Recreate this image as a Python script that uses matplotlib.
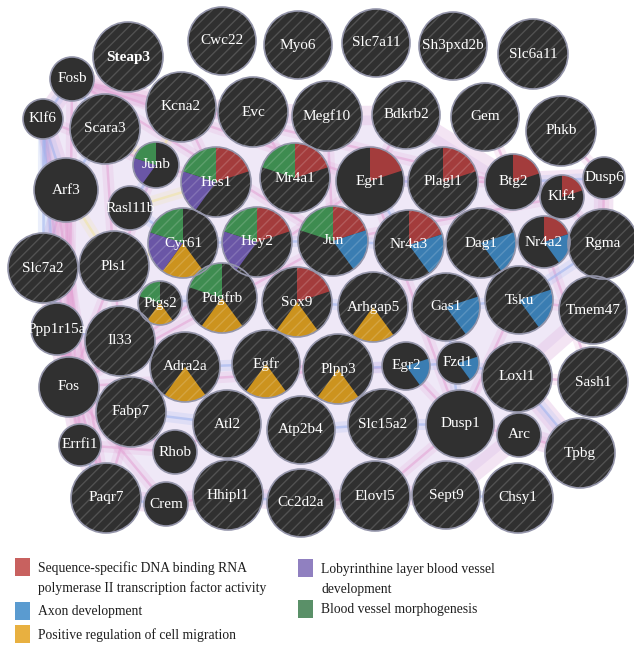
import matplotlib.pyplot as plt
from matplotlib.patches import Circle, Wedge, Rectangle, Polygon

# gene nodes: name, centre (px), radius (px)
genes = ["Steap3", "Cwc22", "Myo6", "Slc7a11", "Sh3pxd2b", "Slc6a11",
         "Fosb", "Klf6", "Scara3", "Kcna2", "Evc", "Megf10", "Bdkrb2", "Gem", "Phkb",
         "Arf3", "Junb", "Hes1", "Mr4a1", "Egr1", "Plagl1", "Btg2", "Klf4", "Dusp6",
         "Rasl11b", "Cyr61", "Hey2", "Jun", "Nr4a3", "Dag1", "Nr4a2", "Rgma",
         "Slc7a2", "Pls1", "Ptgs2", "Pdgfrb", "Sox9", "Arhgap5", "Gas1", "Tsku", "Tmem47",
         "Ppp1r15a", "Il33", "Adra2a", "Egfr", "Plpp3", "Egr2", "Fzd1", "Loxl1", "Sash1",
         "Fos", "Fabp7", "Atl2", "Atp2b4", "Slc15a2", "Dusp1", "Arc", "Tpbg",
         "Errfi1", "Rhob", "Paqr7", "Crem", "Hhipl1", "Cc2d2a", "Elovl5", "Sept9", "Chsy1"]
node_x = [128, 222, 298, 376, 453, 533,
          72, 43, 105, 181, 253, 327, 406, 485, 561,
          66, 156, 216, 295, 370, 443, 513, 562, 604,
          130, 183, 257, 333, 409, 481, 544, 603,
          43, 114, 160, 222, 297, 373, 446, 519, 593,
          57, 120, 185, 266, 338, 406, 458, 517, 593,
          69, 131, 227, 301, 383, 460, 519, 580,
          80, 175, 106, 166, 228, 301, 375, 446, 518]
node_y = [57, 41, 45, 43, 46, 54,
          79, 119, 129, 107, 112, 116, 115, 117, 131,
          190, 165, 182, 178, 181, 182, 182, 197, 178,
          208, 243, 242, 241, 245, 243, 242, 244,
          268, 266, 303, 298, 302, 307, 307, 300, 310,
          329, 341, 367, 364, 369, 366, 363, 377, 382,
          387, 412, 424, 430, 424, 424, 435, 453,
          445, 452, 498, 504, 495, 503, 496, 495, 498]
node_r = [35, 34, 34, 34, 34, 35,
          22, 20, 35, 35, 35, 35, 34, 34, 35,
          32, 23, 35, 35, 34, 35, 28, 22, 21,
          22, 35, 35, 35, 35, 35, 26, 35,
          35, 35, 22, 35, 35, 35, 34, 34, 34,
          26, 35, 35, 34, 35, 24, 21, 35, 35,
          30, 35, 34, 34, 35, 34, 22, 35,
          21, 22, 35, 22, 35, 34, 35, 34, 35]
# genes drawn without the striped fill
plain_genes = ["Fosb", "Klf6", "Arf3", "Junb", "Rasl11b", "Egr1", "Btg2", "Klf4", "Dusp6",
               "Nr4a2", "Ppp1r15a", "Fos", "Errfi1", "Rhob", "Crem", "Egr2", "Fzd1",
               "Dusp1", "Arc"]

# GO term membership (five equal slices, clockwise from 12 o'clock)
terms = ["Sequence-specific DNA binding RNA\npolymerase II transcription factor activity",
         "Axon development",
         "Positive regulation of cell migration",
         "Lobyrinthine layer blood vessel\ndevelopment",
         "Blood vessel morphogenesis"]
term_genes = [
    ["Hes1", "Mr4a1", "Egr1", "Plagl1", "Btg2", "Klf4", "Hey2", "Jun", "Nr4a3", "Nr4a2", "Sox9"],
    ["Jun", "Nr4a3", "Dag1", "Nr4a2", "Gas1", "Tsku", "Egr2", "Fzd1"],
    ["Cyr61", "Ptgs2", "Pdgfrb", "Sox9", "Arhgap5", "Adra2a", "Egfr", "Plpp3"],
    ["Junb", "Hes1", "Cyr61", "Hey2"],
    ["Junb", "Hes1", "Mr4a1", "Cyr61", "Hey2", "Jun", "Ptgs2", "Pdgfrb"],
]
legend_colors = ["#c8615f", "#5a9bd0", "#e8b040", "#9080c0", "#5a9068"]
slice_colors = ["#a33c3c", "#3a7db2", "#cc931e", "#6a56a6", "#3e8c50"]

pink_edges = [("Fosb", "Egr1"), ("Fosb", "Jun"), ("Klf6", "Fos"), ("Klf6", "Junb"), ("Arf3", "Fos"),
              ("Arf3", "Slc7a2"), ("Scara3", "Pls1"), ("Fos", "Errfi1"), ("Fos", "Egr2"),
              ("Errfi1", "Rhob"), ("Rhob", "Atl2"), ("Paqr7", "Fabp7"), ("Crem", "Hhipl1"),
              ("Cc2d2a", "Elovl5"), ("Elovl5", "Dusp1"), ("Dusp1", "Arc"), ("Arc", "Tpbg"),
              ("Loxl1", "Sash1"), ("Tsku", "Tmem47"), ("Phkb", "Dusp6"), ("Dusp6", "Rgma"),
              ("Gem", "Btg2"), ("Bdkrb2", "Egr1"), ("Megf10", "Jun"), ("Klf4", "Rgma"),
              ("Nr4a2", "Sash1"), ("Egfr", "Plpp3"), ("Il33", "Adra2a"), ("Ppp1r15a", "Fos"),
              ("Junb", "Hes1"), ("Hes1", "Cyr61"), ("Pls1", "Il33"), ("Kcna2", "Hes1"),
              ("Evc", "Mr4a1"), ("Fosb", "Fos"), ("Klf6", "Paqr7"), ("Egr1", "Fos"),
              ("Jun", "Fos"), ("Arf3", "Errfi1"), ("Slc7a2", "Paqr7"), ("Fosb", "Klf4"),
              ("Egr1", "Dusp1"), ("Egr2", "Dusp1"), ("Junb", "Fos"), ("Btg2", "Egr1"),
              ("Nr4a2", "Dusp1"), ("Fos", "Crem"), ("Rhob", "Fos"), ("Klf4", "Jun")]
blue_edges = [("Klf6", "Slc7a2"), ("Scara3", "Arf3"), ("Rasl11b", "Cyr61"), ("Ptgs2", "Pdgfrb"),
              ("Sox9", "Arhgap5"), ("Gas1", "Tsku"), ("Dag1", "Nr4a2"), ("Jun", "Nr4a3"),
              ("Egr1", "Plagl1"), ("Hey2", "Jun"), ("Fabp7", "Atl2"), ("Atp2b4", "Slc15a2"),
              ("Sept9", "Chsy1"), ("Loxl1", "Tpbg"), ("Egr2", "Fzd1"), ("Fzd1", "Loxl1"),
              ("Slc15a2", "Dusp1"), ("Hhipl1", "Cc2d2a"), ("Paqr7", "Crem"), ("Fos", "Fabp7"),
              ("Ppp1r15a", "Il33"), ("Klf6", "Fosb"), ("Fosb", "Scara3"), ("Klf6", "Ppp1r15a"),
              ("Slc7a2", "Ppp1r15a"), ("Errfi1", "Paqr7"), ("Egr1", "Nr4a3"), ("Gas1", "Dusp1"),
              ("Klf6", "Arf3"), ("Btg2", "Dusp6"), ("Tsku", "Rgma"), ("Cyr61", "Hey2"),
              ("Adra2a", "Egfr"), ("Plpp3", "Egr2"), ("Hey2", "Pdgfrb"), ("Rasl11b", "Junb")]
yellow_edges = [("Rasl11b", "Hes1"), ("Pls1", "Cyr61"), ("Scara3", "Junb"), ("Kcna2", "Junb"),
                ("Il33", "Fabp7"), ("Arf3", "Pls1")]
# outline of the shaded area behind the network
haze_genes = ["Fosb", "Kcna2", "Megf10", "Bdkrb2", "Btg2", "Dusp6", "Rgma", "Tmem47", "Loxl1",
              "Tpbg", "Arc", "Sept9", "Elovl5", "Cc2d2a", "Hhipl1", "Crem", "Paqr7", "Errfi1",
              "Fos", "Ppp1r15a", "Slc7a2", "Arf3", "Klf6"]

W, H = 634, 648
fig = plt.figure(figsize=(W / 100, H / 100), dpi=100)
ax = fig.add_axes([0, 0, 1, 1])
ax.set_xlim(0, W)
ax.set_ylim(H, 0)
ax.set_aspect("equal")
ax.axis("off")

pos = {g: (x, y) for g, x, y in zip(genes, node_x, node_y)}

ax.add_patch(Polygon([pos[g] for g in haze_genes], closed=True, facecolor="#dccdee",
                     edgecolor="#e6c4e6", lw=14, alpha=0.45, joinstyle="round", zorder=0))

# network edges under the nodes
for edges, col in [(pink_edges, "#e3a2d4"), (blue_edges, "#9cb2ee"), (yellow_edges, "#efe4a0")]:
    for a, b in edges:
        (x1, y1), (x2, y2) = pos[a], pos[b]
        ax.plot([x1, x2], [y1, y2], color=col, lw=8, alpha=0.2, solid_capstyle="round", zorder=1)
        ax.plot([x1, x2], [y1, y2], color=col, lw=1.8, alpha=0.55, zorder=1)

for g, x, y, r in zip(genes, node_x, node_y, node_r):
    ax.add_patch(Circle((x, y), r, facecolor="#303030", edgecolor="none", zorder=3))
    for k, members in enumerate(term_genes):
        if g in members:
            # slice k runs clockwise from 72k to 72(k+1) degrees past 12 o'clock (y axis is flipped)
            ax.add_patch(Wedge((x, y), r, 72 * k - 90, 72 * (k + 1) - 90,
                               facecolor=slice_colors[k], edgecolor="none", zorder=4))
    if g not in plain_genes:
        ax.add_patch(Circle((x, y), r, facecolor="none", edgecolor=(1, 1, 1, 0.16),
                            hatch="///", lw=0, zorder=5))
    ax.add_patch(Circle((x, y), r, facecolor="none", edgecolor="#9495aa", lw=1.2, zorder=6))
    ax.text(x, y, g, color="white", fontsize=11, family="Liberation Serif",
            fontweight="bold" if g == "Steap3" else "normal",
            ha="center", va="center", zorder=7)

# legend: one square per term, wrapped lines 20 px apart
leg_x = [15, 15, 15, 298, 298]
leg_y = [567, 611, 634, 568, 609]
for k in range(len(terms)):
    ax.add_patch(Rectangle((leg_x[k], leg_y[k] - 9), 15, 18, facecolor=legend_colors[k],
                           edgecolor="none", zorder=2))
    for i, line in enumerate(terms[k].split("\n")):
        ax.text(leg_x[k] + 23, leg_y[k] + 1 + 20 * i, line, fontsize=9.8,
                family="Liberation Serif", color="#1e1e1e", ha="left", va="center", zorder=2)

fig.savefig("out.png", dpi=100)
